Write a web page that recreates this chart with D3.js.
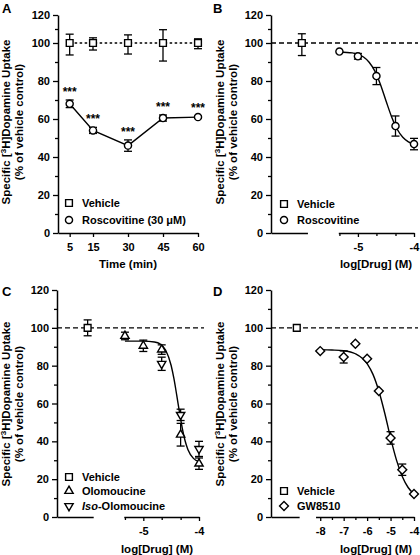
<!DOCTYPE html>
<html><head><meta charset="utf-8">
<script src="https://cdn.jsdelivr.net/npm/d3@7"></script>
<style>
body{margin:0;background:#fff}
svg{display:block}
text{font-family:"Liberation Sans",Arial,sans-serif;font-weight:bold;fill:#000}
</style>
</head><body>
<svg id="chart" width="420" height="555"></svg>
<script>
// ---------------- data ----------------
const yTickVals = [0, 20, 40, 60, 80, 100, 120];
const yMinorVals = [10, 30, 50, 70, 90, 110];

// Panel A (time course)
const timeMin = [5, 15, 30, 45, 60];
const vehicleA = [100, 100, 100, 100, 100];
const vehicleAErr = [6.3, 3.7, 5.8, 9.5, 3.0];
const roscA = [68, 54, 46, 60.5, 61];
const roscAErr = [2.0, 1.6, 3.0, 1.6, 0.6];
const sigA = ["***", "***", "***", "***", "***"];

// Panel B (Roscovitine concentration-response)
const logB = [-5.33, -5, -4.67, -4.33, -4];
const roscB = [95.5, 93, 82.6, 56.3, 46.8];
const roscBErr = [0, 1.5, 4.5, 5.3, 3.0];
const vehicleLogB = [-6];
const vehicleB = [100];
const vehicleBErr = [6.6];
const fitBx = [-5.33, -5.1, -4.9, -4.8, -4.7, -4.6, -4.5, -4.4, -4.3, -4.2, -4.1, -4.0];
const fitBy = [95.3, 94.8, 92.6, 89.9, 85.3, 78.3, 69.6, 61.2, 54.6, 50.4, 48.0, 46.8];
const tickLabelsB = [-5, -4];
const tickMinorB = [-5.33, -4.67, -4.33];

// Panel C (Olomoucine / Iso-Olomoucine)
const logOlo = [-5.33, -5, -4.67, -4.33, -4];
const olo = [95.7, 90.5, 88.5, 43.5, 28.2];
const oloErr = [2.0, 3.0, 2.5, 6.0, 3.0];
const logIso = [-4.67, -4.33, -4];
const iso = [81, 54, 36];
const isoErr = [3.5, 3.0, 4.0];
const vehicleLogC = [-6];
const vehicleC = [100];
const vehicleCErr = [4.2];
const fitCx = [-5.33, -5.0, -4.8, -4.7, -4.6, -4.5, -4.45, -4.4, -4.35, -4.3, -4.25, -4.2, -4.1, -4.0];
const fitCy = [93, 93, 92.5, 91.5, 88.3, 80.1, 73.1, 64.4, 55.3, 46.9, 40.3, 35.7, 31.0, 29.3];
const tickLabelsC = [-5, -4];
const tickMinorC = [-5.33, -4.67, -4.33];

// Panel D (GW8510)
const logGW = [-8, -7, -6.5, -6, -5.5, -5, -4.5, -4];
const gw = [87.7, 84.6, 91.6, 83.7, 66.6, 41.8, 25, 12.2];
const gwErr = [0, 3.2, 0, 0, 0, 3.3, 3.0, 0];
const vehicleLogD = [-9];
const vehicleD = [100];
const vehicleDErr = [0];
const fitDx = [-8, -7.5, -7, -6.5, -6, -5.75, -5.5, -5.25, -5, -4.75, -4.5, -4.25, -4];
const fitDy = [88.5, 88.3, 87.9, 86.3, 81.1, 75.4, 66.6, 55.0, 41.8, 30.2, 21.4, 15.6, 12.1];
const tickLabelsD = [-8, -7, -6, -5, -4];
const tickMinorD = [-7.5, -6.5, -5.5, -4.5];

// ---------------- drawing ----------------
const svg = d3.select("#chart");
const FS = 11;

const yAB = d3.scaleLinear().domain([0, 100, 120]).range([233, 43, 15]);
const yCD = d3.scaleLinear().domain([0, 120]).range([517, 290]);

const xA = d3.scaleLinear().domain([0, 60]).range([58, 198]);
const xB = d3.scaleLinear().domain([-6.55, -4]).range([271, 414]);
const xC = d3.scaleLinear().domain([-6.55, -4]).range([57, 199]);
const xD = d3.scaleLinear().domain([-10.1, -4]).range([271, 414]);

function styleAxis(g) {
  g.selectAll("path.domain").attr("stroke", "#000").attr("stroke-width", 1.5);
  g.selectAll(".tick line").attr("stroke", "#000").attr("stroke-width", 1.3);
  g.selectAll(".tick text").style("font-size", FS + "px").style("font-weight", "bold")
    .style("font-family", '"Liberation Sans",Arial,sans-serif');
  g.attr("font-size", null).attr("font-family", null);
}

function yAxis(y, x0) {
  const g = svg.append("g").attr("transform", `translate(${x0},0)`)
    .call(d3.axisLeft(y).tickValues(yTickVals).tickSize(5).tickPadding(3).tickSizeOuter(0));
  styleAxis(g);
  const m = svg.append("g").attr("transform", `translate(${x0},0)`)
    .call(d3.axisLeft(y).tickValues(yMinorVals).tickSize(3).tickFormat("").tickSizeOuter(0));
  m.select("path.domain").remove();
  styleAxis(m);
}

function xSegment(x, y0, dom, labelVals, minorVals) {
  const s = d3.scaleLinear().domain(dom).range(dom.map(x));
  const g = svg.append("g").attr("transform", `translate(0,${y0})`)
    .call(d3.axisBottom(s).tickValues(labelVals).tickSize(labelVals.length ? 4 : 0)
      .tickPadding(6).tickSizeOuter(0).tickFormat(d => d3.format("")(d).replace("−", "-")));
  styleAxis(g);
  if (minorVals.length) {
    const m = svg.append("g").attr("transform", `translate(0,${y0})`)
      .call(d3.axisBottom(s).tickValues(minorVals).tickSize(3).tickFormat("").tickSizeOuter(0));
    m.select("path.domain").remove();
    styleAxis(m);
  }
}

function yTitle(cx, cy) {
  const t1 = svg.append("text").attr("transform", `translate(${cx},${cy}) rotate(-90)`)
    .attr("text-anchor", "middle").style("font-size", "11.5px");
  t1.append("tspan").text("Specific [");
  t1.append("tspan").text("3").style("font-size", "8px").attr("dy", -4);
  t1.append("tspan").text("H]Dopamine Uptake").attr("dy", 4);
  svg.append("text").attr("transform", `translate(${cx + 13},${cy}) rotate(-90)`)
    .attr("text-anchor", "middle").style("font-size", "11.5px").text("(% of vehicle control)");
}

function xTitle(cx, by, txt) {
  svg.append("text").attr("x", cx).attr("y", by).attr("text-anchor", "middle")
    .style("font-size", "11.5px").text(txt);
}

function panelLetter(x, y, l) {
  svg.append("text").attr("x", x).attr("y", y).style("font-size", "13px").text(l);
}

const sym = {
  square: d3.symbol(d3.symbolSquare, 46)(),
  circle: d3.symbol(d3.symbolCircle, 40)(),
  tri: d3.symbol(d3.symbolTriangle, 30)(),
  diamond: d3.symbol(d3.symbolSquare, 40)()
};
function marker(type, cx, cy) {
  let rot = 0, d = sym[type];
  if (type === "triDown") { d = sym.tri; rot = 180; }
  if (type === "diamond") rot = 45;
  svg.append("path").attr("d", d)
    .attr("transform", `translate(${cx},${cy}) rotate(${rot})`)
    .attr("fill", "#fff").attr("stroke", "#000").attr("stroke-width", 1.4);
}
function errBars(xs, ys, es, x, y) {
  xs.forEach((xv, i) => {
    if (!es[i]) return;
    const px = x(xv), t = y(ys[i] + es[i]), b = y(ys[i] - es[i]);
    const g = svg.append("g").attr("stroke", "#000").attr("stroke-width", 1.3);
    g.append("line").attr("x1", px).attr("x2", px).attr("y1", t).attr("y2", b);
    g.append("line").attr("x1", px - 4).attr("x2", px + 4).attr("y1", t).attr("y2", t);
    g.append("line").attr("x1", px - 4).attr("x2", px + 4).attr("y1", b).attr("y2", b);
  });
}
function series(type, xs, ys, es, x, y) {
  errBars(xs, ys, es, x, y);
  xs.forEach((xv, i) => marker(type, x(xv), y(ys[i])));
}
function lineThrough(xs, ys, x, y, curve, dash) {
  const l = d3.line().x(d => x(d[0])).y(d => y(d[1])).curve(curve);
  svg.append("path").attr("d", l(xs.map((v, i) => [v, ys[i]])))
    .attr("fill", "none").attr("stroke", "#000").attr("stroke-width", 1.4)
    .attr("stroke-dasharray", dash || null);
}
function hundredLine(x0, x1, y) {
  svg.append("line").attr("x1", x0).attr("x2", x1).attr("y1", y(100)).attr("y2", y(100))
    .attr("stroke", "#000").attr("stroke-width", 1.4).attr("stroke-dasharray", "5,3");
}
function legend(x0, items) {
  items.forEach(it => {
    marker(it.type, x0, it.y);
    const t = svg.append("text").attr("x", x0 + 13).attr("y", it.y + 4).style("font-size", "11px");
    it.parts.forEach(p => t.append("tspan").text(p[0]).style("font-style", p[1] ? "italic" : null));
  });
}

// ----- Panel A -----
panelLetter(2, 13, "A");
lineThrough(timeMin, vehicleA, xA, yAB, d3.curveLinear, "2.5,2.5");
lineThrough(timeMin, roscA, xA, yAB, d3.curveLinear, null);
series("square", timeMin, vehicleA, vehicleAErr, xA, yAB);
series("circle", timeMin, roscA, roscAErr, xA, yAB);
timeMin.forEach((t, i) => {
  svg.append("text").attr("x", xA(t)).attr("y", yAB(roscA[i] + roscAErr[i]) - 4)
    .attr("text-anchor", "middle").style("font-size", "12px").text(sigA[i]);
});
yAxis(yAB, 58);
{
  const g = svg.append("g").attr("transform", "translate(0,233)")
    .call(d3.axisBottom(xA).tickValues(timeMin).tickSize(4).tickPadding(6).tickSizeOuter(0));
  styleAxis(g);
}
yTitle(10, 122);
xTitle(128, 268, "Time (min)");
legend(69, [
  {type: "square", y: 203, parts: [["Vehicle", false]]},
  {type: "circle", y: 220, parts: [["Roscovitine (30 \u03BCM)", false]]}
]);

// ----- Panel B -----
panelLetter(213, 13, "B");
hundredLine(271, 418, yAB);
lineThrough(fitBx, fitBy, xB, yAB, d3.curveMonotoneX, null);
series("square", vehicleLogB, vehicleB, vehicleBErr, xB, yAB);
series("circle", logB, roscB, roscBErr, xB, yAB);
yAxis(yAB, 271);
xSegment(xB, 233, [-6.55, -5.9], [], []);
xSegment(xB, 233, [-5.35, -4], tickLabelsB, tickMinorB);
yTitle(224, 122);
xTitle(376, 268, "log[Drug] (M)");
legend(284, [
  {type: "square", y: 204, parts: [["Vehicle", false]]},
  {type: "circle", y: 220, parts: [["Roscovitine", false]]}
]);

// ----- Panel C -----
panelLetter(2, 296, "C");
hundredLine(57, 204, yCD);
lineThrough(fitCx, fitCy, xC, yCD, d3.curveMonotoneX, null);
series("square", vehicleLogC, vehicleC, vehicleCErr, xC, yCD);
series("tri", logOlo, olo, oloErr, xC, yCD);
series("triDown", logIso, iso, isoErr, xC, yCD);
yAxis(yCD, 57);
xSegment(xC, 517, [-6.55, -5.9], [], []);
xSegment(xC, 517, [-5.35, -4], tickLabelsC, tickMinorC);
yTitle(10, 404);
xTitle(157, 553, "log[Drug] (M)");
legend(69, [
  {type: "square", y: 477, parts: [["Vehicle", false]]},
  {type: "tri", y: 491, parts: [["Olomoucine", false]]},
  {type: "triDown", y: 506, parts: [["Iso", true], ["-Olomoucine", false]]}
]);

// ----- Panel D -----
panelLetter(213, 296, "D");
hundredLine(271, 418, yCD);
lineThrough(fitDx, fitDy, xD, yCD, d3.curveMonotoneX, null);
series("square", vehicleLogD, vehicleD, vehicleDErr, xD, yCD);
series("diamond", logGW, gw, gwErr, xD, yCD);
yAxis(yCD, 271);
xSegment(xD, 517, [-10.1, -8.9], [], []);
xSegment(xD, 517, [-8.2, -4], tickLabelsD, tickMinorD);
yTitle(224, 404);
xTitle(376, 553, "log[Drug] (M)");
legend(284, [
  {type: "square", y: 491, parts: [["Vehicle", false]]},
  {type: "diamond", y: 506, parts: [["GW8510", false]]}
]);
</script>
</body></html>
